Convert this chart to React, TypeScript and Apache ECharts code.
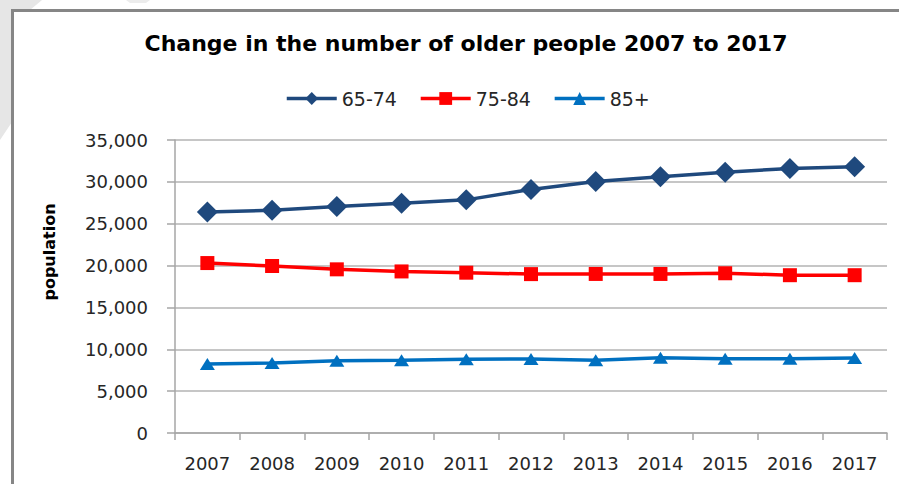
import React, { useEffect, useRef } from "react";
import * as echarts from "echarts";

const years = ["2007", "2008", "2009", "2010", "2011", "2012", "2013", "2014", "2015", "2016", "2017"];
const age65to74 = [26400, 26600, 27050, 27450, 27850, 29100, 30050, 30600, 31150, 31600, 31800];
const age75to84 = [20300, 19950, 19550, 19300, 19150, 18980, 19000, 19000, 19080, 18850, 18850];
const age85plus = [8250, 8350, 8620, 8700, 8820, 8850, 8680, 8980, 8860, 8860, 8950];

const titleText = "Change in the number of older people 2007 to 2017";
const yAxisTitle = "population";

export default function App() {
  const ref = useRef<HTMLDivElement>(null);
  useEffect(() => {
    if (!ref.current) return;
    const chart = echarts.init(ref.current, null, { renderer: "svg" });
    const font = "DejaVu Sans";
    chart.setOption({
      animation: false,
      backgroundColor: "#ffffff",
      graphic: [
        {
          type: "polygon",
          z: -10,
          shape: { points: [[0, 0], [42, 0], [30, 10], [12, 10], [12, 122], [0, 140]] },
          style: { fill: "#e6e6e6" },
        },
        {
          type: "polygon",
          z: -10,
          shape: { points: [[126, 0], [150, 0], [146, 3], [130, 3]] },
          style: { fill: "#ececec" },
        },
        {
          type: "line",
          shape: { x1: 12, y1: 10.5, x2: 899, y2: 10.5 },
          style: { stroke: "#868686", lineWidth: 3 },
        },
        {
          type: "line",
          shape: { x1: 12.5, y1: 9, x2: 12.5, y2: 484 },
          style: { stroke: "#868686", lineWidth: 3 },
        },
        {
          type: "text",
          x: 49,
          y: 252,
          rotation: Math.PI / 2,
          style: {
            text: yAxisTitle,
            font: `bold 16px "${font}"`,
            fill: "#000000",
            align: "center",
            verticalAlign: "middle",
          },
        },
      ],
      title: {
        text: titleText,
        left: 461,
        textAlign: "center",
        top: 27,
        textStyle: { fontFamily: font, fontWeight: "bold", fontSize: 22, color: "#000000" },
      },
      legend: {
        left: 280,
        top: 84,
        itemWidth: 50,
        itemHeight: 16,
        itemGap: 22,
        lineStyle: { width: 3.5 },
        textStyle: { fontFamily: font, fontSize: 19, color: "#262626" },
        data: ["65-74", "75-84", "85+"],
      },
      grid: { left: 175, right: 12, top: 140, bottom: 51, containLabel: false },
      xAxis: {
        type: "category",
        data: years,
        boundaryGap: true,
        axisLine: { lineStyle: { color: "#a6a6a6", width: 1.5 } },
        axisTick: { show: true, length: 7, interval: 0, alignWithLabel: false, lineStyle: { color: "#a6a6a6", width: 1.5 } },
        axisLabel: { margin: 21, fontFamily: font, fontSize: 18, color: "#262626", interval: 0 },
      },
      yAxis: {
        type: "value",
        min: 0,
        max: 35000,
        interval: 5000,
        axisLine: { show: true, lineStyle: { color: "#a6a6a6", width: 1.5 } },
        axisTick: { show: true, length: 8, lineStyle: { color: "#a6a6a6", width: 1.5 } },
        splitLine: { lineStyle: { color: "#b3b3b3", width: 1.5 } },
        axisLabel: {
          margin: 27,
          fontFamily: font,
          fontSize: 18,
          color: "#262626",
          formatter: (v: number) => v.toLocaleString("en-US"),
        },
      },
      series: [
        {
          name: "65-74",
          type: "line",
          data: age65to74,
          symbol: "diamond",
          symbolSize: 21,
          itemStyle: { color: "#1f497d" },
          lineStyle: { color: "#1f497d", width: 3.5 },
        },
        {
          name: "75-84",
          type: "line",
          data: age75to84,
          symbol: "rect",
          symbolSize: 14,
          itemStyle: { color: "#ff0000" },
          lineStyle: { color: "#ff0000", width: 3.5 },
        },
        {
          name: "85+",
          type: "line",
          data: age85plus,
          symbol: "triangle",
          symbolSize: [15, 12],
          itemStyle: { color: "#0070c0" },
          lineStyle: { color: "#0070c0", width: 3.5 },
        },
      ],
    });
    return () => chart.dispose();
  }, []);
  return <div ref={ref} style={{ position: "absolute", left: 0, top: 0, width: 899, height: 484 }} />;
}
